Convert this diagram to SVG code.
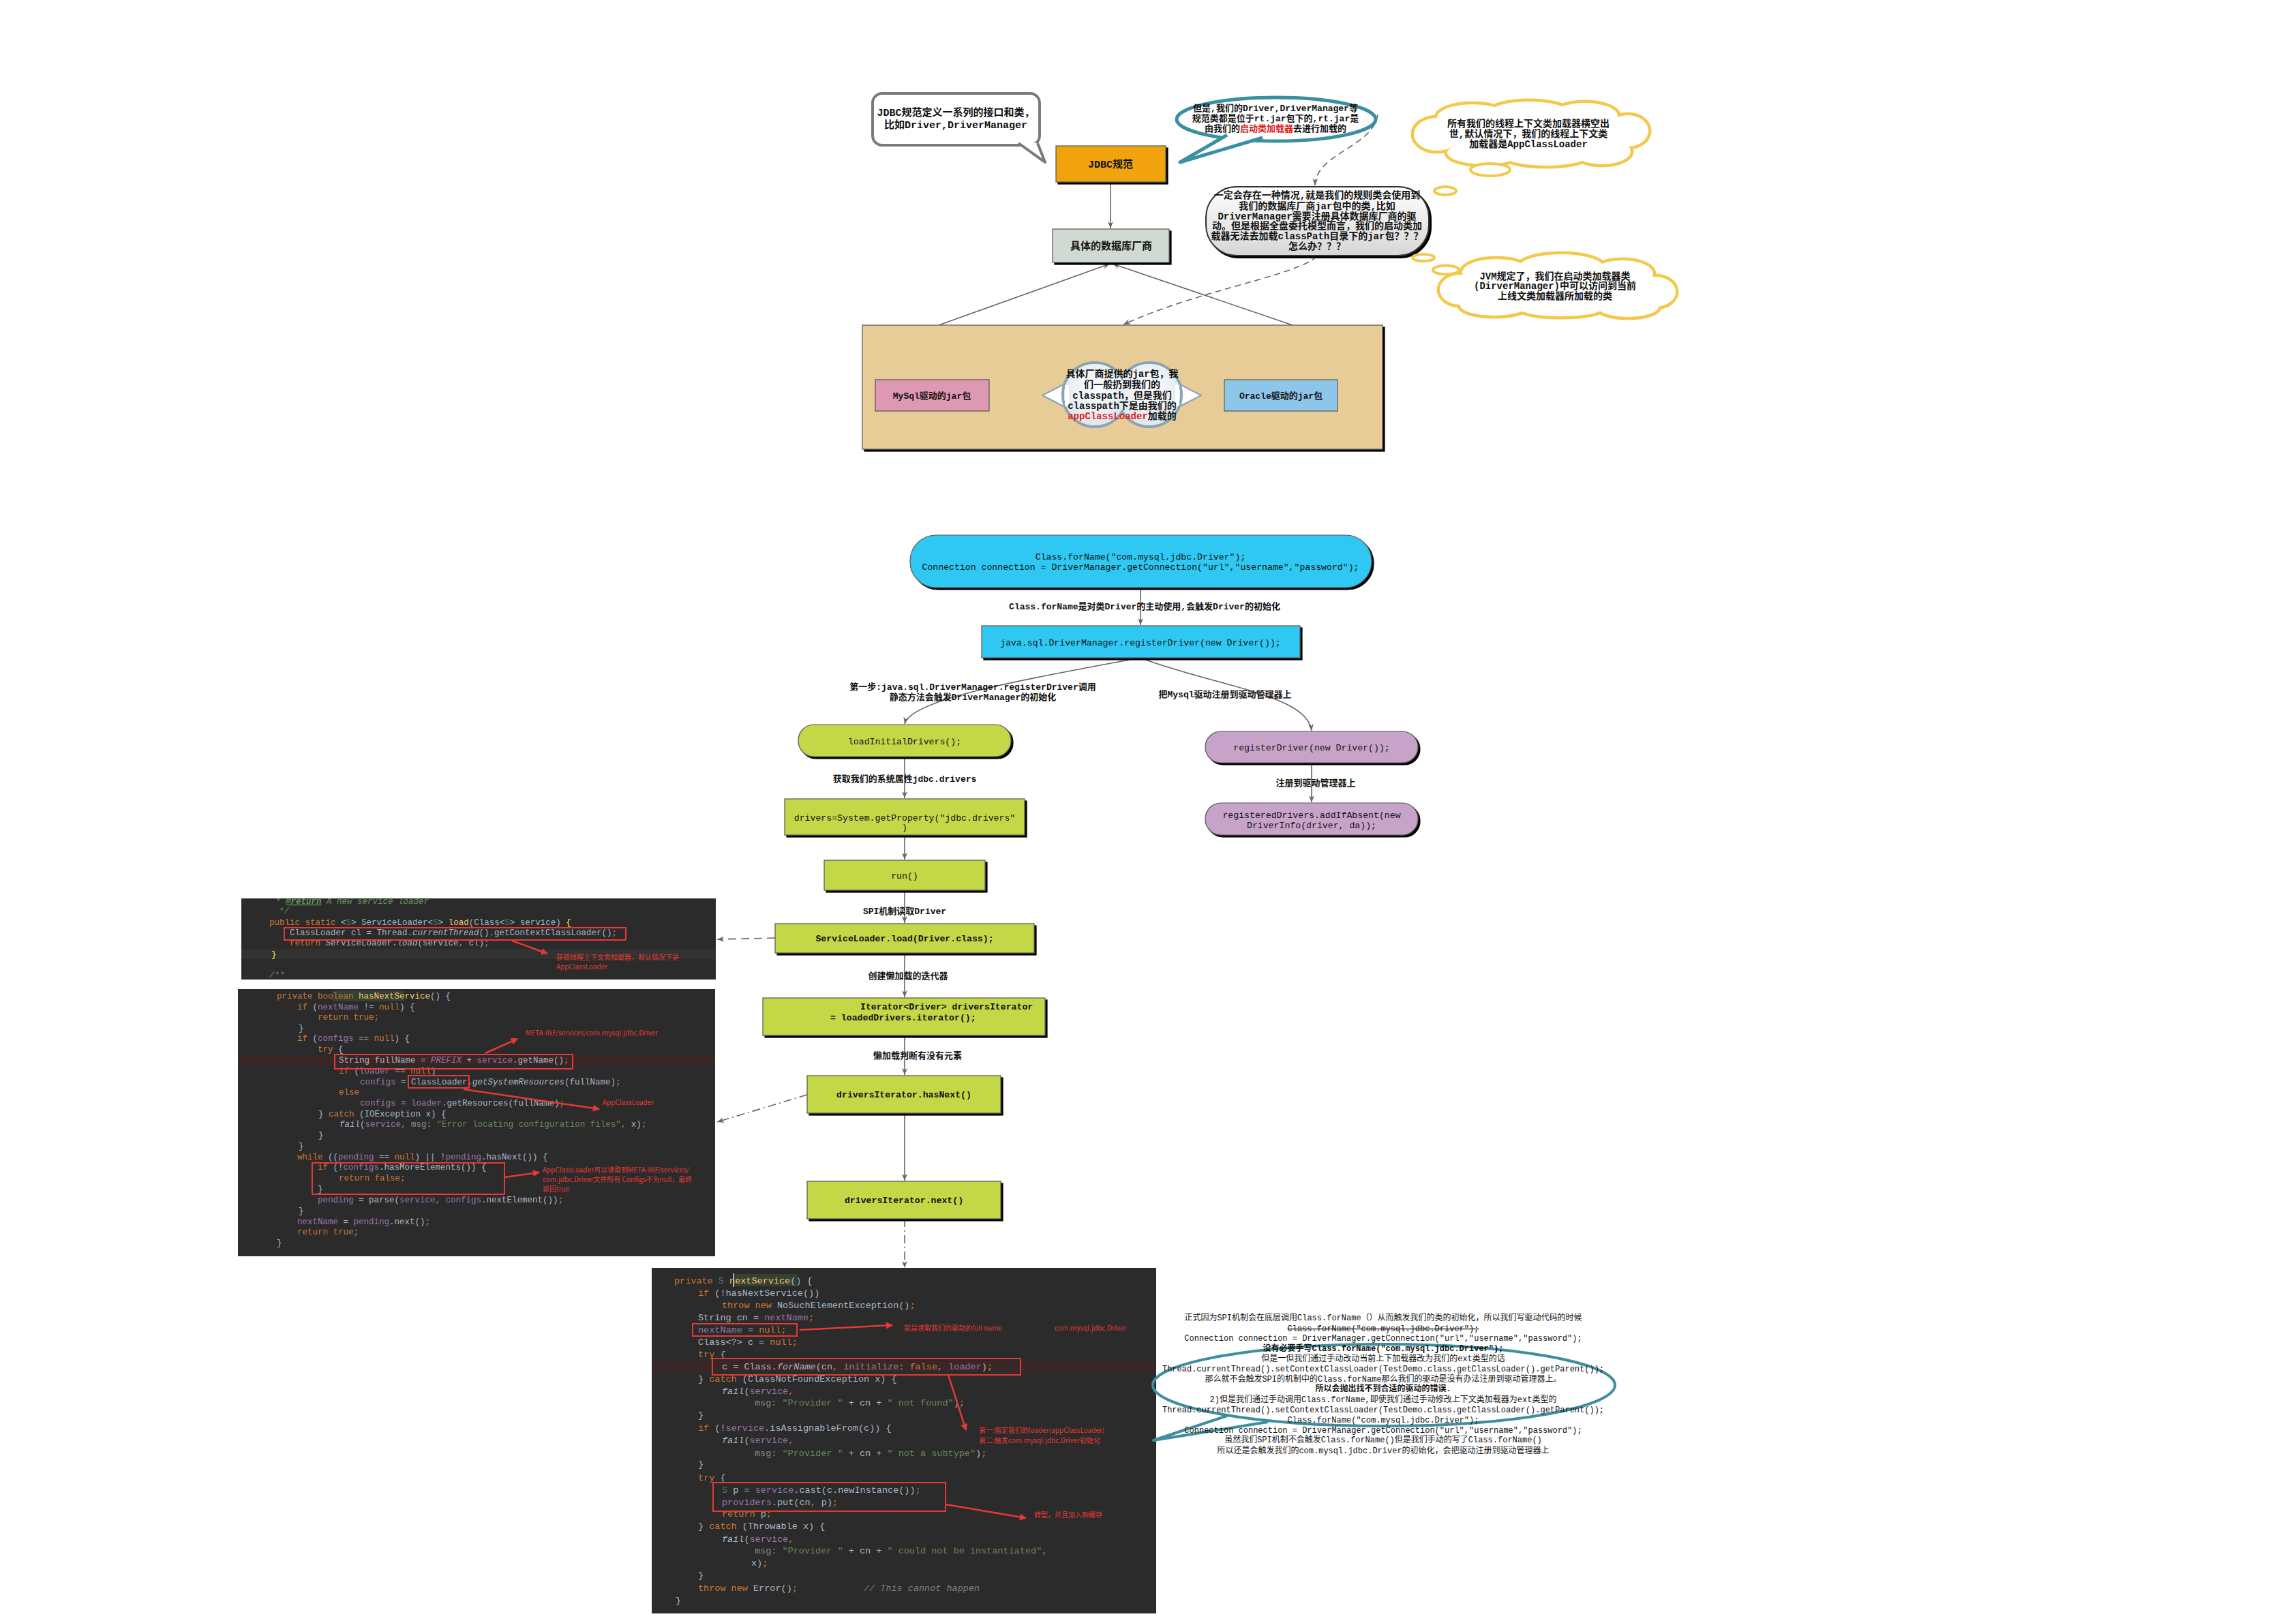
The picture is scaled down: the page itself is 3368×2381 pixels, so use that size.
<svg xmlns="http://www.w3.org/2000/svg" width="3368" height="2381" viewBox="0 0 3368 2381">
<style>
.f{font-family:"Liberation Mono","Noto Sans CJK SC",monospace;fill:#111}
.b{font-weight:bold}
.m{text-anchor:middle}
.s15{font-size:15px}.s14{font-size:14px}.s13{font-size:13px}.s12{font-size:12px}.s133{font-size:13.2px}
.code{font-family:"Liberation Mono","DejaVu Sans Mono",monospace;fill:#A9B7C6;font-size:12.5px}
.code3{font-size:13.5px}
.k{fill:#CC7832}.mt{fill:#FFC66D}.fd{fill:#9876AA}.st{fill:#6A8759}.h{fill:#8A8A8A}.i{font-style:italic}.tp{fill:#507874}.dc{fill:#629755;font-style:italic}.cm{fill:#808080;font-style:italic}
.ann{font-family:"Noto Sans CJK SC",sans-serif;font-size:10px;fill:#E53935}
.rbox{fill:none;stroke:#E53935;stroke-width:2}
.rarr{stroke:#E53935;stroke-width:2.5;fill:none;marker-end:url(#rh)}
.conn{stroke:#666;stroke-width:1.6;fill:none}
.node{stroke:#555;stroke-width:1.2}
.cloudS{fill:none;stroke:#F2C94C;stroke-width:9}
.cloudF{fill:#fff;stroke:none}
.oval{fill:#fff;stroke:#F2C94C;stroke-width:4}
.codebg{fill:#2B2B2B}
</style>
<defs>
<marker id="ah" viewBox="0 0 10 10" refX="10" refY="5" markerWidth="10" markerHeight="10" markerUnits="userSpaceOnUse" orient="auto"><path d="M0,1 L10,5 L0,9 L3,5 z" fill="#666"/></marker>
<marker id="rh" viewBox="0 0 10 10" refX="9" refY="5" markerWidth="14" markerHeight="10" markerUnits="userSpaceOnUse" orient="auto"><path d="M0,0 L10,5 L0,10 z" fill="#E53935"/></marker>
<filter id="sh" x="-5%" y="-5%" width="115%" height="130%"><feOffset in="SourceAlpha" dx="3" dy="3" result="o"/><feMerge><feMergeNode in="o"/><feMergeNode in="SourceGraphic"/></feMerge></filter>
<linearGradient id="gg" x1="0" y1="0" x2="0" y2="1"><stop offset="0" stop-color="#ffffff"/><stop offset="1" stop-color="#d6d6d6"/></linearGradient>
<radialGradient id="cg" cx="0.5" cy="0.4" r="0.6"><stop offset="0" stop-color="#ffffff"/><stop offset="1" stop-color="#dde6ee"/></radialGradient>
<g id="cl1">
<ellipse cx="2245" cy="198" rx="140" ry="30"/><ellipse cx="2108" cy="197" rx="34" ry="24"/><ellipse cx="2160" cy="173" rx="52" ry="20"/><ellipse cx="2243" cy="165" rx="58" ry="16"/><ellipse cx="2325" cy="170" rx="48" ry="19"/><ellipse cx="2388" cy="192" rx="30" ry="23"/><ellipse cx="2350" cy="222" rx="42" ry="19"/><ellipse cx="2268" cy="228" rx="62" ry="15"/><ellipse cx="2178" cy="224" rx="55" ry="17"/>
</g>
<g id="cl2">
<ellipse cx="2290" cy="420" rx="150" ry="32"/><ellipse cx="2142" cy="425" rx="30" ry="22"/><ellipse cx="2195" cy="400" rx="50" ry="20"/><ellipse cx="2290" cy="392" rx="62" ry="19"/><ellipse cx="2380" cy="402" rx="45" ry="20"/><ellipse cx="2428" cy="428" rx="30" ry="22"/><ellipse cx="2388" cy="450" rx="45" ry="15"/><ellipse cx="2290" cy="452" rx="62" ry="12"/><ellipse cx="2192" cy="448" rx="50" ry="15"/>
</g>
<clipPath id="cp1"><rect x="354" y="1318" width="696" height="119"/></clipPath>
<clipPath id="cp2"><rect x="349" y="1451" width="700" height="392"/></clipPath>
<clipPath id="cp3"><rect x="956" y="1860" width="740" height="507"/></clipPath>
</defs>
<rect width="3368" height="2381" fill="#fff"/>

<!-- connectors -->
<g id="connectors">
<line class="conn" x1="1629" y1="267" x2="1629" y2="335" marker-end="url(#ah)"/>
<line class="conn" x1="1377" y1="477" x2="1628" y2="387" marker-end="url(#ah)"/>
<line class="conn" x1="1896" y1="477" x2="1632" y2="387" marker-end="url(#ah)"/>
<path class="conn" d="M2021,168 C2015,215 1930,225 1929,272" stroke-dasharray="9,6" marker-end="url(#ah)"/>
<path class="conn" d="M1932,376 C1900,405 1760,425 1648,476" stroke-dasharray="9,6" marker-end="url(#ah)"/>
<line class="conn" x1="1673" y1="862" x2="1673" y2="917" marker-end="url(#ah)"/>
<path class="conn" d="M1668,966 C1480,1000 1335,1028 1327,1062" marker-end="url(#ah)"/>
<path class="conn" d="M1675,966 C1790,1008 1918,1020 1924,1072" marker-end="url(#ah)"/>
<line class="conn" x1="1327" y1="1110" x2="1327" y2="1171" marker-end="url(#ah)"/>
<line class="conn" x1="1327" y1="1225" x2="1327" y2="1261" marker-end="url(#ah)"/>
<line class="conn" x1="1327" y1="1306" x2="1327" y2="1354" marker-end="url(#ah)"/>
<line class="conn" x1="1327" y1="1398" x2="1327" y2="1463" marker-end="url(#ah)"/>
<line class="conn" x1="1327" y1="1519" x2="1327" y2="1577" marker-end="url(#ah)"/>
<line class="conn" x1="1327" y1="1633" x2="1327" y2="1732" marker-end="url(#ah)"/>
<line class="conn" x1="1327" y1="1788" x2="1327" y2="1860" stroke-dasharray="12,5,2,5" marker-end="url(#ah)"/>
<line class="conn" x1="1924" y1="1119" x2="1924" y2="1177" marker-end="url(#ah)"/>
<line class="conn" x1="1137" y1="1376" x2="1052" y2="1378" stroke="#333" stroke-dasharray="12,7" marker-end="url(#ah)"/>
<line class="conn" x1="1184" y1="1606" x2="1052" y2="1646" stroke-dasharray="12,5,2,5" marker-end="url(#ah)"/>
</g>

<!-- connector labels -->
<g id="labels" class="f b">
<text class="m s13" x="1679" y="894">Class.forName是对类Driver的主动使用,会触发Driver的初始化</text>
<text class="m s13" x="1427" y="1012">第一步:java.sql.DriverManager.registerDriver调用</text>
<text class="m s13" x="1427" y="1027">静态方法会触发DriverManager的初始化</text>
<text class="m s13" x="1797" y="1023">把Mysql驱动注册到驱动管理器上</text>
<text class="m s13" x="1327" y="1147">获取我们的系统属性jdbc.drivers</text>
<text class="m s13" x="1930" y="1153">注册到驱动管理器上</text>
<text class="m s13" x="1327" y="1341">SPI机制读取Driver</text>
<text class="m s13" x="1332" y="1436">创建懒加载的迭代器</text>
<text class="m s13" x="1346" y="1553">懒加载判断有没有元素</text>
</g>

<!-- top section -->
<g id="bubble-jdbc-def">
<rect x="1280" y="137" width="245" height="76" rx="14" fill="#fff" stroke="#7a7a7a" stroke-width="4"/>
<path d="M1494,210 L1533,238 L1522,210" fill="#fff" stroke="#7a7a7a" stroke-width="4" stroke-linejoin="round"/>
<text class="f b m s15" x="1402" y="170">JDBC规范定义一系列的接口和类，</text>
<text class="f b m s15" x="1402" y="188">比如Driver,DriverManager</text>
</g>
<g id="bubble-rtjar">
<ellipse cx="1872" cy="175" rx="146" ry="32" fill="#fff" stroke="#3A8FA0" stroke-width="5"/>
<path d="M1800,198 L1731,238 L1852,202" fill="#fff" stroke="#3A8FA0" stroke-width="5" stroke-linejoin="round"/>
<text class="f b m s13" x="1871" y="163">但是,我们的Driver,DriverManager等</text>
<text class="f b m s13" x="1871" y="178">规范类都是位于rt.jar包下的,rt.jar是</text>
<text class="f b m s13" x="1871" y="193">由我们的<tspan fill="#E0201E">启动类加载器</tspan>去进行加载的</text>
</g>
<g id="node-jdbc">
<rect x="1549" y="214" width="161" height="53" fill="#F0A30A" class="node" filter="url(#sh)"/>
<text class="f b m s15" x="1629" y="246">JDBC规范</text>
</g>
<g id="node-vendor">
<rect x="1544" y="336" width="171" height="49" fill="#D1D9D3" class="node" filter="url(#sh)"/>
<text class="f b m s15" x="1630" y="366">具体的数据库厂商</text>
</g>
<g id="bubble-question">
<rect x="1769" y="274" width="327" height="101" rx="45" fill="url(#gg)" stroke="#333" stroke-width="2" filter="url(#sh)"/>
<text class="f b m s14" x="1932" y="291">一定会存在一种情况,就是我们的规则类会使用到</text>
<text class="f b m s14" x="1932" y="307">我们的数据库厂商jar包中的类,比如</text>
<text class="f b m s14" x="1932" y="322">DriverManager需要注册具体数据库厂商的驱</text>
<text class="f b m s14" x="1932" y="336">动。但是根据全盘委托模型而言，我们的启动类加</text>
<text class="f b m s14" x="1932" y="351">载器无法去加载classPath目录下的jar包？？？</text>
<text class="f b m s14" x="1932" y="366">怎么办？？？</text>
</g>
<g id="cloud-context">
<use href="#cl1" class="cloudS"/>
<use href="#cl1" class="cloudF"/>
<ellipse class="oval" cx="2186" cy="249" rx="29" ry="9"/>
<ellipse class="oval" cx="2120" cy="280" rx="16" ry="6"/>
<text class="f b m s14" x="2242" y="186">所有我们的线程上下文类加载器横空出</text>
<text class="f b m s14" x="2242" y="201">世,默认情况下，我们的线程上下文类</text>
<text class="f b m s14" x="2242" y="216">加载器是AppClassLoader</text>
</g>
<g id="cloud-jvm">
<ellipse class="oval" cx="2088" cy="378" rx="16" ry="5"/>
<ellipse class="oval" cx="2121" cy="396" rx="19" ry="6.5"/>
<use href="#cl2" class="cloudS"/>
<use href="#cl2" class="cloudF"/>
<text class="f b m s14" x="2281" y="410">JVM规定了，我们在启动类加载器类</text>
<text class="f b m s14" x="2281" y="424">(DirverManager)中可以访问到当前</text>
<text class="f b m s14" x="2281" y="439">上线文类加载器所加载的类</text>
</g>
<g id="node-vendor-area">
<rect x="1265" y="477" width="763" height="182" fill="#E8CC98" class="node" filter="url(#sh)"/>
</g>
<g id="node-mysql">
<rect x="1284" y="557" width="167" height="46" fill="#DE98B3" class="node"/>
<text class="f b m s13" x="1367" y="585">MySql驱动的jar包</text>
</g>
<g id="node-oracle">
<rect x="1796" y="557" width="166" height="46" fill="#8EC6EA" class="node"/>
<text class="f b m s13" x="1879" y="585">Oracle驱动的jar包</text>
</g>
<g id="bubble-classpath">
<path d="M1529,580 L1562,563 L1562,597 z M1762,580 L1729,563 L1729,597 z" fill="#fff" stroke="#8AA3B5" stroke-width="2" stroke-linejoin="round"/>
<circle cx="1606" cy="579" r="47" fill="#fff" stroke="#8AA3B5" stroke-width="4"/>
<circle cx="1686" cy="579" r="47" fill="#fff" stroke="#8AA3B5" stroke-width="4"/>
<circle cx="1606" cy="579" r="45" fill="url(#cg)"/>
<circle cx="1686" cy="579" r="45" fill="url(#cg)"/>
<rect x="1562" y="565" width="6" height="30" fill="#fff"/>
<rect x="1724" y="565" width="6" height="30" fill="#fff"/>
<text class="f b m s14" x="1646" y="553">具体厂商提供的jar包，我</text>
<text class="f b m s14" x="1646" y="569">们一般扔到我们的</text>
<text class="f b m s14" x="1646" y="585">classpath，但是我们</text>
<text class="f b m s14" x="1646" y="600">classpath下是由我们的</text>
<text class="f b m s14" x="1646" y="615"><tspan fill="#E0201E">appClassLoader</tspan>加载的</text>
</g>

<!-- middle flow -->
<g id="node-start">
<rect x="1335" y="785" width="677" height="77" rx="38" fill="#2EC8F2" class="node" filter="url(#sh)"/>
<text class="f m s133" x="1673" y="821">Class.forName("com.mysql.jdbc.Driver");</text>
<text class="f m s133" x="1673" y="836">Connection connection = DriverManager.getConnection("url","username","password");</text>
</g>
<g id="node-register">
<rect x="1440" y="918" width="467" height="47" fill="#2EC8F2" class="node" filter="url(#sh)"/>
<text class="f m s133" x="1673" y="947">java.sql.DriverManager.registerDriver(new Driver());</text>
</g>
<g id="node-loadInitial">
<rect x="1171" y="1063" width="312" height="47" rx="23" fill="#C3D747" class="node" filter="url(#sh)"/>
<text class="f m s133" x="1327" y="1092">loadInitialDrivers();</text>
</g>
<g id="node-getProperty">
<rect x="1151" y="1172" width="352" height="53" fill="#C3D747" class="node" filter="url(#sh)"/>
<text class="f m s133" x="1327" y="1204">drivers=System.getProperty("jdbc.drivers"</text>
<text class="f m s133" x="1327" y="1218">)</text>
</g>
<g id="node-run">
<rect x="1209" y="1262" width="236" height="44" fill="#C3D747" class="node" filter="url(#sh)"/>
<text class="f m s133" x="1327" y="1289">run()</text>
</g>
<g id="node-serviceLoader">
<rect x="1137" y="1355" width="380" height="43" fill="#C3D747" class="node" filter="url(#sh)"/>
<text class="f b m s133" x="1327" y="1381">ServiceLoader.load(Driver.class);</text>
</g>
<g id="node-iterator">
<rect x="1119" y="1464" width="414" height="55" fill="#C3D747" class="node" filter="url(#sh)"/>
<text class="f b s133" x="1262" y="1481">Iterator&lt;Driver&gt; driversIterator</text>
<text class="f b s133" x="1218" y="1497">= loadedDrivers.iterator();</text>
</g>
<g id="node-hasNext">
<rect x="1184" y="1578" width="284" height="55" fill="#C3D747" class="node" filter="url(#sh)"/>
<text class="f b m s133" x="1326" y="1610">driversIterator.hasNext()</text>
</g>
<g id="node-next">
<rect x="1184" y="1733" width="284" height="55" fill="#C3D747" class="node" filter="url(#sh)"/>
<text class="f b m s133" x="1326" y="1765">driversIterator.next()</text>
</g>
<g id="node-registerDriver">
<rect x="1768" y="1073" width="312" height="46" rx="23" fill="#C8A3C9" class="node" filter="url(#sh)"/>
<text class="f m s133" x="1924" y="1101">registerDriver(new Driver());</text>
</g>
<g id="node-addIfAbsent">
<rect x="1768" y="1178" width="312" height="47" rx="23" fill="#C8A3C9" class="node" filter="url(#sh)"/>
<text class="f m s133" x="1924" y="1200">registeredDrivers.addIfAbsent(new</text>
<text class="f m s133" x="1924" y="1215">DriverInfo(driver, da));</text>
</g>

<!-- code block 1 -->
<g id="code-load">
<rect class="codebg" x="354" y="1318" width="696" height="119"/>
<g clip-path="url(#cp1)">
<rect x="354" y="1392" width="696" height="15" fill="#323232"/>
<g class="code">
<text x="404" y="1326"><tspan class="dc">* </tspan><tspan class="dc" font-weight="bold" text-decoration="underline">@return</tspan><tspan class="dc"> A new service loader</tspan></text>
<text x="409" y="1340" class="dc">*/</text>
<text x="395" y="1357"><tspan class="k">public static</tspan> &lt;<tspan class="tp">S</tspan>&gt; ServiceLoader&lt;<tspan class="tp">S</tspan>&gt; <tspan class="mt">load</tspan>(Class&lt;<tspan class="tp">S</tspan>&gt; service) <tspan fill="#FFEF28">{</tspan></text>
<text x="425" y="1372">ClassLoader cl = Thread.<tspan class="i">currentThread</tspan>().getContextClassLoader()<tspan class="k">;</tspan></text>
<text x="425" y="1387"><tspan class="k">return</tspan> ServiceLoader.<tspan class="i">load</tspan>(service<tspan class="k">,</tspan> cl)<tspan class="k">;</tspan></text>
<text x="398" y="1404" fill="#FFEF28">}</text>
<text x="395" y="1434" class="cm">/**</text>
</g>
</g>
<rect class="rbox" x="417" y="1361" width="501" height="18"/>
<line class="rarr" x1="751" y1="1380" x2="803" y2="1399"/>
<text class="ann" x="816" y="1408">获取线程上下文类加载器，默认情况下是</text>
<text class="ann" x="816" y="1422">AppClassLoader</text>
</g>

<!-- code block 2 -->
<g id="code-hasNextService">
<rect class="codebg" x="349" y="1451" width="700" height="392"/>
<g clip-path="url(#cp2)">
<rect x="349" y="1549" width="700" height="14" fill="#3B2626"/>
<rect x="487" y="1453" width="106" height="16" fill="#344134"/>
<g class="code">
<text x="406" y="1465"><tspan class="k">private boolean</tspan> <tspan class="mt">hasNextService</tspan>() {</text>
<text x="436" y="1481"><tspan class="k">if</tspan> (<tspan class="fd">nextName</tspan> != <tspan class="k">null</tspan>) {</text>
<text x="466" y="1496" class="k">return true;</text>
<text x="438" y="1512">}</text>
<text x="436" y="1527"><tspan class="k">if</tspan> (<tspan class="fd">configs</tspan> == <tspan class="k">null</tspan>) {</text>
<text x="466" y="1543"><tspan class="k">try</tspan> {</text>
<text x="497" y="1559">String fullName = <tspan class="fd i">PREFIX</tspan> + <tspan class="fd">service</tspan>.getName()<tspan class="k">;</tspan></text>
<text x="497" y="1575"><tspan class="k">if</tspan> (<tspan class="fd">loader</tspan> == <tspan class="k">null</tspan>)</text>
<text x="528" y="1591"><tspan class="fd">configs</tspan> = ClassLoader.<tspan class="i">getSystemResources</tspan>(fullName)<tspan class="k">;</tspan></text>
<text x="497" y="1606" class="k">else</text>
<text x="528" y="1622"><tspan class="fd">configs</tspan> = <tspan class="fd">loader</tspan>.getResources(fullName)<tspan class="k">;</tspan></text>
<text x="467" y="1638">} <tspan class="k">catch</tspan> (IOException x) {</text>
<text x="498" y="1653"><tspan class="i">fail</tspan>(<tspan class="fd">service</tspan><tspan class="k">,</tspan> <tspan class="h">msg:</tspan> <tspan class="st">"Error locating configuration files"</tspan><tspan class="k">,</tspan> x)<tspan class="k">;</tspan></text>
<text x="467" y="1669">}</text>
<text x="438" y="1685">}</text>
<text x="436" y="1701"><tspan class="k">while</tspan> ((<tspan class="fd">pending</tspan> == <tspan class="k">null</tspan>) || !<tspan class="fd">pending</tspan>.hasNext()) {</text>
<text x="466" y="1716"><tspan class="k">if</tspan> (!<tspan class="fd">configs</tspan>.hasMoreElements()) {</text>
<text x="497" y="1732" class="k">return false;</text>
<text x="466" y="1748">}</text>
<text x="466" y="1764"><tspan class="fd">pending</tspan> = parse(<tspan class="fd">service</tspan><tspan class="k">,</tspan> <tspan class="fd">configs</tspan>.nextElement())<tspan class="k">;</tspan></text>
<text x="438" y="1780">}</text>
<text x="436" y="1796"><tspan class="fd">nextName</tspan> = <tspan class="fd">pending</tspan>.next()<tspan class="k">;</tspan></text>
<text x="436" y="1811" class="k">return true;</text>
<text x="406" y="1827">}</text>
</g>
</g>
<rect class="rbox" x="491" y="1547" width="349" height="21"/>
<rect class="rbox" x="599" y="1578" width="89" height="18"/>
<rect class="rbox" x="458" y="1706" width="282" height="46"/>
<line class="rarr" x1="712" y1="1545" x2="759" y2="1524"/>
<text class="ann" x="771" y="1519">META-INF/services/com.mysql.jdbc.Driver</text>
<line class="rarr" x1="680" y1="1598" x2="879" y2="1627"/>
<text class="ann" x="884" y="1621">AppClassLoader</text>
<line class="rarr" x1="741" y1="1727" x2="791" y2="1720"/>
<text class="ann" x="796" y="1720">AppClassLoader可以读取到META-INF/services/</text>
<text class="ann" x="796" y="1734">com.jdbc.Driver文件所有 Configs不为null，最终</text>
<text class="ann" x="796" y="1748">返回true</text>
</g>

<!-- code block 3 -->
<g id="code-nextService">
<rect class="codebg" x="956" y="1860" width="740" height="507"/>
<g clip-path="url(#cp3)">
<rect x="956" y="1997" width="740" height="15" fill="#3B2626"/>
<rect x="1075" y="1869" width="94" height="18" fill="#344134"/>
<line x1="1076" y1="1868" x2="1076" y2="1888" stroke="#ddd" stroke-width="1.5"/>
<g class="code code3">
<text x="989" y="1883"><tspan class="k">private</tspan> <tspan class="tp">S</tspan> <tspan class="mt">nextService</tspan>() {</text>
<text x="1024" y="1901"><tspan class="k">if</tspan> (!hasNextService())</text>
<text x="1059" y="1919"><tspan class="k">throw new</tspan> NoSuchElementException()<tspan class="k">;</tspan></text>
<text x="1024" y="1937">String cn = <tspan class="fd">nextName</tspan><tspan class="k">;</tspan></text>
<text x="1024" y="1955"><tspan class="fd">nextName</tspan> = <tspan class="k">null;</tspan></text>
<text x="1024" y="1973">Class&lt;?&gt; c = <tspan class="k">null;</tspan></text>
<text x="1024" y="1991"><tspan class="k">try</tspan> {</text>
<text x="1059" y="2009">c = Class.<tspan class="i">forName</tspan>(cn<tspan class="k">,</tspan> <tspan class="h">initialize:</tspan> <tspan class="k">false,</tspan> <tspan class="fd">loader</tspan>)<tspan class="k">;</tspan></text>
<text x="1024" y="2027">} <tspan class="k">catch</tspan> (ClassNotFoundException x) {</text>
<text x="1059" y="2045"><tspan class="i">fail</tspan>(<tspan class="fd">service</tspan><tspan class="k">,</tspan></text>
<text x="1107" y="2062"><tspan class="h">msg:</tspan> <tspan class="st">"Provider "</tspan> + cn + <tspan class="st">" not found"</tspan>)<tspan class="k">;</tspan></text>
<text x="1024" y="2080">}</text>
<text x="1024" y="2099"><tspan class="k">if</tspan> (!<tspan class="fd">service</tspan>.isAssignableFrom(c)) {</text>
<text x="1059" y="2117"><tspan class="i">fail</tspan>(<tspan class="fd">service</tspan><tspan class="k">,</tspan></text>
<text x="1107" y="2136"><tspan class="h">msg:</tspan> <tspan class="st">"Provider "</tspan> + cn + <tspan class="st">" not a subtype"</tspan>)<tspan class="k">;</tspan></text>
<text x="1024" y="2152">}</text>
<text x="1024" y="2172"><tspan class="k">try</tspan> {</text>
<text x="1059" y="2190"><tspan class="tp">S</tspan> p = <tspan class="fd">service</tspan>.cast(c.newInstance())<tspan class="k">;</tspan></text>
<text x="1059" y="2208"><tspan class="fd">providers</tspan>.put(cn<tspan class="k">,</tspan> p)<tspan class="k">;</tspan></text>
<text x="1059" y="2225"><tspan class="k">return</tspan> p<tspan class="k">;</tspan></text>
<text x="1024" y="2243">} <tspan class="k">catch</tspan> (Throwable x) {</text>
<text x="1059" y="2262"><tspan class="i">fail</tspan>(<tspan class="fd">service</tspan><tspan class="k">,</tspan></text>
<text x="1107" y="2279"><tspan class="h">msg:</tspan> <tspan class="st">"Provider "</tspan> + cn + <tspan class="st">" could not be instantiated"</tspan><tspan class="k">,</tspan></text>
<text x="1102" y="2297">x)<tspan class="k">;</tspan></text>
<text x="1024" y="2315">}</text>
<text x="1024" y="2334"><tspan class="k">throw new</tspan> Error()<tspan class="k">;</tspan></text>
<text x="1267" y="2334" class="cm">// This cannot happen</text>
<text x="991" y="2352">}</text>
</g>
</g>
<rect class="rbox" x="1016" y="1942" width="153" height="18"/>
<rect class="rbox" x="1045" y="1993" width="452" height="24"/>
<rect class="rbox" x="1046" y="2175" width="341" height="42"/>
<line class="rarr" x1="1173" y1="1951" x2="1309" y2="1944"/>
<text class="ann" x="1326" y="1952">就是读取我们的驱动的full name</text>
<text class="ann" x="1547" y="1952">com.mysql.jdbc.Driver</text>
<line class="rarr" x1="1391" y1="2017" x2="1417" y2="2098"/>
<text class="ann" x="1436" y="2102">第一:指定我们的loader(appClassLoader)</text>
<text class="ann" x="1436" y="2117">第二:触发com.mysql.jdbc.Driver初始化</text>
<line class="rarr" x1="1387" y1="2207" x2="1505" y2="2227"/>
<text class="ann" x="1517" y="2226">转型，并且加入到缓存</text>
</g>

<!-- right note -->
<g id="note-spi">
<ellipse cx="2030" cy="2032" rx="339" ry="60" fill="none" stroke="#3E8E9E" stroke-width="4"/>
<path d="M1800,2077 L1692,2113 L1860,2086" fill="none" stroke="#3E8E9E" stroke-width="4" stroke-linejoin="round"/>
<g class="f s12 m">
<text x="2029" y="1937">正式因为SPI机制会在底层调用Class.forName（）从而触发我们的类的初始化，所以我们写驱动代码的时候</text>
<text x="2029" y="1953" text-decoration="line-through">Class.forName("com.mysql.jdbc.Driver");</text>
<text x="2029" y="1967">Connection connection = DriverManager.getConnection("url","username","password");</text>
<text x="2029" y="1982" class="b">没有必要手写Class.forName("com.mysql.jdbc.Driver");</text>
<text x="2029" y="1997">但是一但我们通过手动改动当前上下加载器改为我们的ext类型的话</text>
<text x="2029" y="2012">Thread.currentThread().setContextClassLoader(TestDemo.class.getClassLoader().getParent());</text>
<text x="2029" y="2027">那么就不会触发SPI的机制中的Class.forName那么我们的驱动是没有办法注册到驱动管理器上。</text>
<text x="2029" y="2041" class="b">所以会抛出找不到合适的驱动的错误.</text>
<text x="2029" y="2057">2)但是我们通过手动调用Class.forName,即使我们通过手动修改上下文类加载器为ext类型的</text>
<text x="2029" y="2072">Thread.currentThread().setContextClassLoader(TestDemo.class.getClassLoader().getParent());</text>
<text x="2029" y="2087">Class.forName("com.mysql.jdbc.Driver");</text>
<text x="2029" y="2102">Connection connection = DriverManager.getConnection("url","username","password");</text>
<text x="2029" y="2116">虽然我们SPI机制不会触发Class.forName()但是我们手动的写了Class.forName()</text>
<text x="2029" y="2132">所以还是会触发我们的com.mysql.jdbc.Driver的初始化，会把驱动注册到驱动管理器上</text>
</g>
</g>
</svg>
